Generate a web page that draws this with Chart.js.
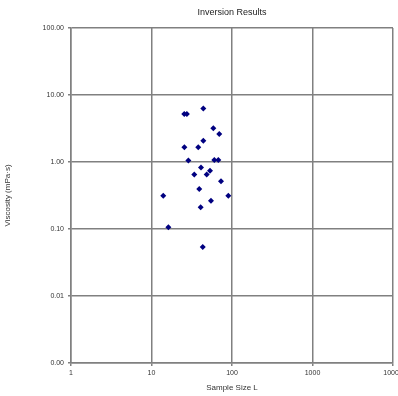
<!DOCTYPE html>
<html>
<head>
<meta charset="utf-8">
<script src="https://cdn.jsdelivr.net/npm/chart.js@4/dist/chart.umd.min.js"></script>
<style>
  html, body { margin: 0; padding: 0; background: #fff; }
  #wrap { width: 398px; height: 396px; }
</style>
</head>
<body>
<div id="wrap"><canvas id="myChart"></canvas></div>
<script>
const chartTitle = "Inversion Results";
const xTitle = "Sample Size L";
const yTitle = "Viscosity (mPa·s)";

const xTicks = [1, 10, 100, 1000, 10000];
const yTicks = [0.001, 0.01, 0.1, 1, 10, 100];

const xValues = [44, 25.5, 27.5, 58.6, 69.5, 44, 25.6, 38.1, 28.7, 60.3, 67.6,
  41.2, 53.3, 34.0, 48.5, 73, 39.2, 14.0, 90, 54.8, 40.8, 16.2, 43.3];
const yValues = [6.3, 5.2, 5.2, 3.18, 2.62, 2.08, 1.66, 1.66, 1.05, 1.07, 1.07,
  0.83, 0.74, 0.65, 0.65, 0.515, 0.395, 0.314, 0.314, 0.264, 0.211, 0.106, 0.054];

const gridColor = "#808080";
const fontFamily = "'Liberation Sans', Arial, sans-serif";
const tickFont = { family: fontFamily, size: 7 };

const points = xValues.map((x, i) => ({ x: x, y: yValues[i] }));

const config = {
  type: "scatter",
  data: {
    datasets: [{
      data: points,
      backgroundColor: "#000080",
      borderColor: "#000080",
      borderWidth: 0,
      pointStyle: "rectRot",
      pointRadius: 3,
    }],
  },
  options: {
    animation: false,
    responsive: true,
    maintainAspectRatio: false,
    layout: { padding: { left: 0, right: 5, top: 0, bottom: 0 } },
    plugins: {
      legend: { display: false },
      tooltip: { enabled: false },
      title: {
        display: true,
        fullSize: false,
        text: chartTitle,
        color: "#222",
        font: { family: fontFamily, size: 9, weight: "normal", lineHeight: 1.2 },
        padding: { top: 7, bottom: 10.2 },
      },
    },
    scales: {
      x: {
        type: "logarithmic",
        min: 1,
        max: 10000,
        afterBuildTicks(scale) {
          scale.ticks = xTicks.map(v => ({ value: v }));
        },
        afterFit(scale) {
          scale.height = 33;
          scale.paddingLeft = 0;
          scale.paddingRight = 0;
        },
        ticks: {
          autoSkip: false,
          maxRotation: 0,
          color: "#333",
          font: tickFont,
          padding: 3,
          callback: value => String(value),
        },
        grid: { color: gridColor, lineWidth: 1.5, tickLength: 3 },
        border: { color: gridColor, width: 1.5 },
        title: {
          display: true,
          text: xTitle,
          color: "#333",
          font: { family: fontFamily, size: 8, lineHeight: 1.2 },
          padding: { top: 0, bottom: 3 },
        },
      },
      y: {
        type: "logarithmic",
        min: 0.001,
        max: 100,
        afterBuildTicks(scale) {
          scale.ticks = yTicks.map(v => ({ value: v }));
        },
        afterFit(scale) {
          scale.width = 71;
          scale.paddingTop = 0;
          scale.paddingBottom = 0;
        },
        ticks: {
          autoSkip: false,
          color: "#333",
          font: tickFont,
          padding: 4,
          callback: value => Number(value).toFixed(2),
        },
        grid: { color: gridColor, lineWidth: 1.5, tickLength: 3 },
        border: { color: gridColor, width: 1.5 },
        title: {
          display: true,
          text: yTitle,
          color: "#333",
          font: { family: fontFamily, size: 8, lineHeight: 1.2 },
          padding: { top: 3, bottom: 0 },
        },
      },
    },
  },
};

const ctx = document.getElementById("myChart");
const myChart = new Chart(ctx, config);
</script>
</body>
</html>
